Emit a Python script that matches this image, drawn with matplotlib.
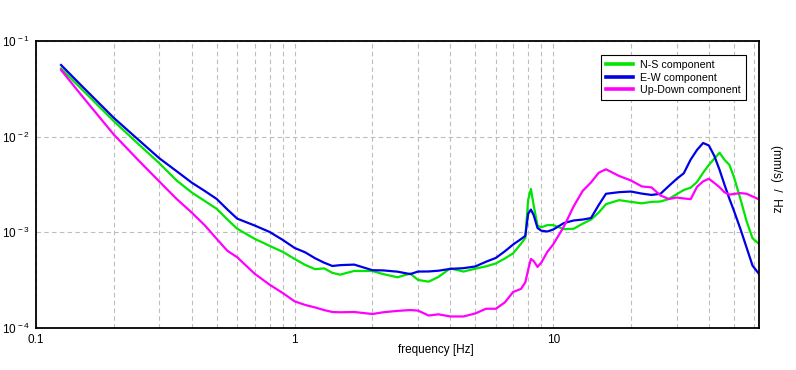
import numpy as np
import matplotlib
matplotlib.use('Agg')
import matplotlib.pyplot as plt
from matplotlib.ticker import LogLocator, NullFormatter, FixedLocator, FixedFormatter

plt.rcParams['font.family'] = ['Liberation Sans', 'DejaVu Sans']
plt.rcParams['mathtext.fontset'] = 'custom'
plt.rcParams['mathtext.rm'] = 'Liberation Sans'
plt.rcParams['mathtext.it'] = 'Liberation Sans'
plt.rcParams['mathtext.bf'] = 'Liberation Sans'

# frequency [Hz]
freq = [0.125, 0.15, 0.2, 0.25, 0.3, 0.35, 0.4, 0.45, 0.5, 0.55, 0.6, 0.7, 0.8, 0.9,
        1.0, 1.1, 1.2, 1.3, 1.4, 1.5, 1.7, 2.0, 2.2, 2.5, 2.8, 3.0, 3.3, 3.6, 4.0, 4.5,
        5.0, 5.5, 6.0, 6.5, 7.0, 7.5, 7.8, 8.0, 8.2, 8.4, 8.7, 9.0, 9.5, 10, 11, 12,
        13, 14, 15, 16, 18, 20, 22, 24, 26, 28, 30, 32, 34, 36, 38, 40, 42, 44, 46,
        48, 50, 53, 56, 59, 62.5]

# N-S component
ns = [0.0516, 0.0315, 0.0145, 0.00828, 0.00527, 0.00348, 0.00261, 0.00212, 0.00176,
      0.00136, 0.00109, 0.000857, 0.000723, 0.000625,
      0.000527, 0.000456, 0.000412, 0.000420, 0.000377, 0.000361, 0.000395, 0.000394,
      0.000366, 0.000339, 0.000371, 0.000318, 0.000305, 0.000342, 0.000420, 0.000389,
      0.000417, 0.000441, 0.000473, 0.000533, 0.000603, 0.000757, 0.000873, 0.00218,
      0.00284, 0.00193, 0.00117, 0.00113, 0.00119, 0.00119, 0.00108, 0.00109,
      0.00123, 0.00136, 0.00161, 0.00197, 0.00217, 0.00208, 0.00201, 0.00208, 0.00210,
      0.00223, 0.00250, 0.00277, 0.00293, 0.00336, 0.00420, 0.00506, 0.00591, 0.00679,
      0.00571, 0.00508, 0.00379, 0.00222, 0.00130, 0.000867, 0.000757]

# E-W component
ew = [0.0561, 0.0341, 0.0157, 0.00918, 0.00594, 0.00435, 0.00331, 0.00270, 0.00223,
      0.00173, 0.00139, 0.00118, 0.00101, 0.000833,
      0.000687, 0.000617, 0.000536, 0.000482, 0.000445, 0.000454, 0.000460, 0.000402,
      0.000400, 0.000388, 0.000366, 0.000389, 0.000390, 0.000397, 0.000415, 0.000422,
      0.000440, 0.000493, 0.000540, 0.000633, 0.000746, 0.000849, 0.000916, 0.00156,
      0.00173, 0.00152, 0.00111, 0.00104, 0.00102, 0.00107, 0.00125, 0.00133,
      0.00136, 0.00141, 0.00193, 0.00253, 0.00263, 0.00267, 0.00254, 0.00246, 0.00253,
      0.00305, 0.00361, 0.00415, 0.00575, 0.00728, 0.00859, 0.00809, 0.00628, 0.00449,
      0.00313, 0.00225, 0.00168, 0.00108, 0.000689, 0.000449, 0.000367]

# Up-Down component
ud = [0.0498, 0.0270, 0.0105, 0.00560, 0.00339, 0.00223, 0.00161, 0.00118, 0.000853,
      0.000640, 0.000549, 0.000370, 0.000284, 0.000232,
      0.000190, 0.000174, 0.000164, 0.000154, 0.000147, 0.000146, 0.000147, 0.000140,
      0.000146, 0.000151, 0.000154, 0.000152, 0.000135, 0.000139, 0.000132, 0.000132,
      0.000142, 0.000159, 0.000159, 0.000185, 0.000238, 0.000256, 0.000299, 0.000405,
      0.000527, 0.000502, 0.000435, 0.000484, 0.000627, 0.000748, 0.00115, 0.00187,
      0.00271, 0.00332, 0.00420, 0.00456, 0.00388, 0.00348, 0.00302, 0.00295, 0.00243,
      0.00223, 0.00231, 0.00226, 0.00222, 0.00299, 0.00341, 0.00363, 0.00328, 0.00296,
      0.00262, 0.00248, 0.00252, 0.00257, 0.00253, 0.00237, 0.00221]

series = [('N-S component', ns, '#00e600'),
          ('E-W component', ew, '#0000e6'),
          ('Up-Down component', ud, '#ff00ff')]

fig = plt.figure(figsize=(7.96, 3.70), dpi=100)
ax = fig.add_axes([36 / 796, 1 - 328 / 370, 723 / 796, 287 / 370])

for name, vals, col in series:
    ax.plot(freq, vals, color=col, linewidth=1.6, label=name)

ax.set_xscale('log')
ax.set_yscale('log')
ax.set_xlim(0.1, 62.5)
ax.set_ylim(1e-4, 1e-1)

# x: major + minor dashed grid
ax.xaxis.set_major_locator(FixedLocator([0.1, 1, 10]))
ax.xaxis.set_major_formatter(FixedFormatter(['0.1', '1', '10']))
ax.xaxis.set_minor_locator(LogLocator(base=10, subs=np.arange(2, 10)))
ax.xaxis.set_minor_formatter(NullFormatter())
# y: decades only
ax.yaxis.set_major_locator(FixedLocator([1e-4, 1e-3, 1e-2, 1e-1]))
ax.yaxis.set_major_formatter(FixedFormatter([r'10$^{\,-4}$', r'10$^{\,-3}$',
                                             r'10$^{\,-2}$', r'10$^{\,-1}$']))
ax.yaxis.set_minor_locator(plt.NullLocator())

grid_kw = dict(color='#bdbdbd', linestyle=(0, (4, 3)), linewidth=0.8)
ax.grid(True, which='major', axis='both', **grid_kw)
ax.grid(True, which='minor', axis='x', **grid_kw)
ax.set_axisbelow(True)

ax.tick_params(axis='both', which='both', length=0, labelsize=8.5)
ax.tick_params(axis='x', pad=4)
ax.tick_params(axis='y', pad=4)
for sp in ax.spines.values():
    sp.set_linewidth(1.3)
    sp.set_color('black')

ax.set_xlabel('frequency [Hz]', fontsize=8.5, ha='left', va='center')
ax.xaxis.set_label_coords(0.5, -0.077)
ax.yaxis.set_label_position('right')
ax.set_ylabel('(mm/s)  /  Hz', fontsize=8.5, rotation=270, va='center', ha='center')
ax.yaxis.set_label_coords(1.0235, 0.52)

leg = ax.legend(loc='upper right', bbox_to_anchor=(0.982, 0.951), borderaxespad=0,
                fontsize=7.7, frameon=True, fancybox=False, edgecolor='black',
                framealpha=1, handlelength=2.6, handletextpad=0.65,
                labelspacing=0.25, borderpad=0.45)
leg.get_frame().set_linewidth(0.8)
for h in leg.get_lines():
    h.set_linewidth(2.6)

fig.savefig('out.png', dpi=100)
